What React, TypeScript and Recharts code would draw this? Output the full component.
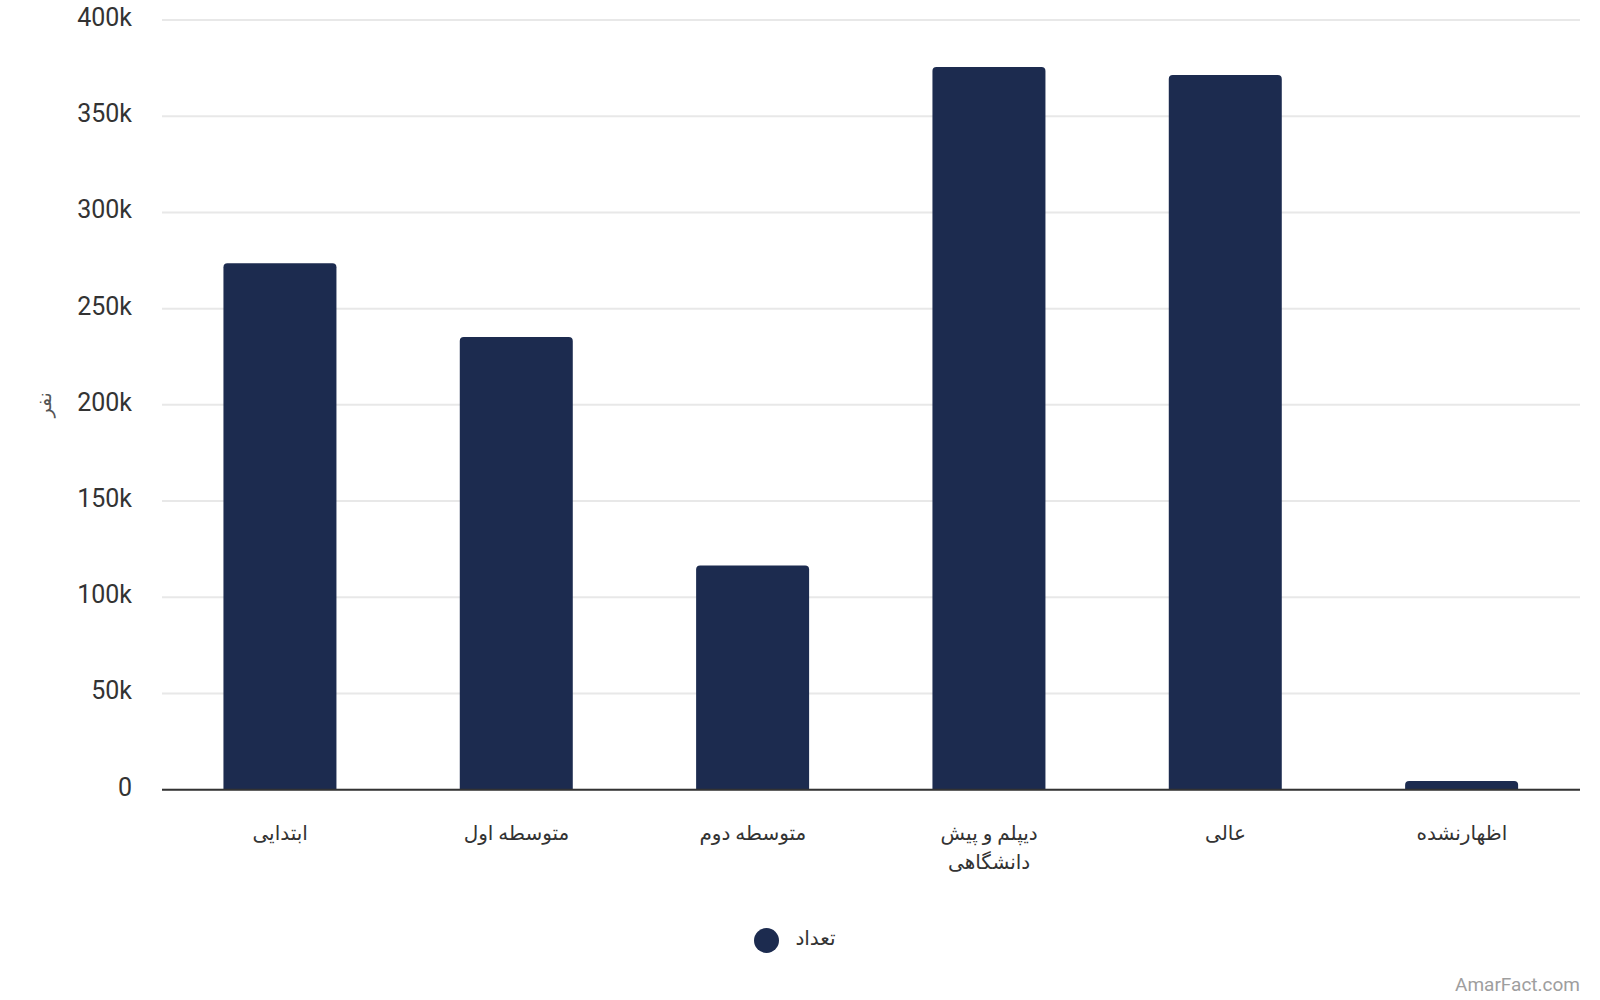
import { Bar, BarChart, CartesianGrid, Legend, Text, XAxis, YAxis } from 'recharts';

const levels = ['ابتدایی', 'متوسطه اول', 'متوسطه دوم', 'دیپلم و پیش دانشگاهی', 'عالی', 'اظهارنشده'];
const counts = [273600, 235300, 116500, 375600, 371400, 4500];
const yTicks = [0, 50000, 100000, 150000, 200000, 250000, 300000, 350000, 400000];

const rows = levels.map((level, i) => ({ level, count: counts[i] }));

const FONT = "Roboto, 'DejaVu Sans', sans-serif";

const formatK = (v: number) => (v === 0 ? '0' : `${v / 1000}k`);

const CategoryTick = (props: any) => {
  const { x, y, payload } = props;
  return (
    <Text
      x={x}
      y={y}
      width={130}
      textAnchor="middle"
      verticalAnchor="start"
      lineHeight={29}
      fontSize={20}
      fill="#333"
      fontFamily={FONT}
    >
      {payload.value}
    </Text>
  );
};

const AxisTitle = (props: any) => {
  const { viewBox } = props;
  const cx = 45;
  const cy = viewBox.y + viewBox.height / 2;
  return (
    <text
      x={cx}
      y={cy}
      transform={`rotate(-90, ${cx}, ${cy})`}
      textAnchor="middle"
      dominantBaseline="central"
      fontSize={19}
      fill="#555"
      fontFamily={FONT}
    >
      نفر
    </text>
  );
};

export default function App() {
  return (
    <div style={{ position: 'absolute', left: 0, top: 0, width: 1600, height: 1000, background: '#fff', fontFamily: FONT }}>
      <BarChart
        width={1600}
        height={1000}
        data={rows}
        margin={{ top: 20, right: 20, left: 0, bottom: 47 }}
        barCategoryGap="26%"
      >
        <CartesianGrid vertical={false} stroke="#e8e8e8" strokeWidth={2} />
        <XAxis
          dataKey="level"
          interval={0}
          height={136}
          tickLine={false}
          tickSize={0}
          tickMargin={36}
          axisLine={{ stroke: '#333', strokeWidth: 2 }}
          tick={<CategoryTick />}
        />
        <YAxis
          width={162}
          domain={[0, 400000]}
          ticks={yTicks}
          tickFormatter={formatK}
          tickLine={false}
          axisLine={false}
          tickSize={0}
          tickMargin={30}
          tick={{ fontSize: 25, fill: '#333', fontFamily: FONT, dy: -3 }}
          label={<AxisTitle />}
        />
        <Legend
          verticalAlign="bottom"
          iconType="circle"
          iconSize={25}
          wrapperStyle={{ left: 10 }}
          formatter={(value: string) => (
            <span style={{ color: '#333', fontSize: 20, marginLeft: 12, fontFamily: FONT }}>{value}</span>
          )}
        />
        <Bar dataKey="count" name="تعداد" fill="#1c2b4f" radius={[4, 4, 0, 0]} isAnimationActive={false} />
      </BarChart>
      <div
        style={{
          position: 'absolute',
          left: 0,
          top: 973,
          width: 1580,
          textAlign: 'right',
          fontSize: 19,
          color: '#9e9e9e',
          fontFamily: FONT,
        }}
      >
        AmarFact.com
      </div>
    </div>
  );
}
